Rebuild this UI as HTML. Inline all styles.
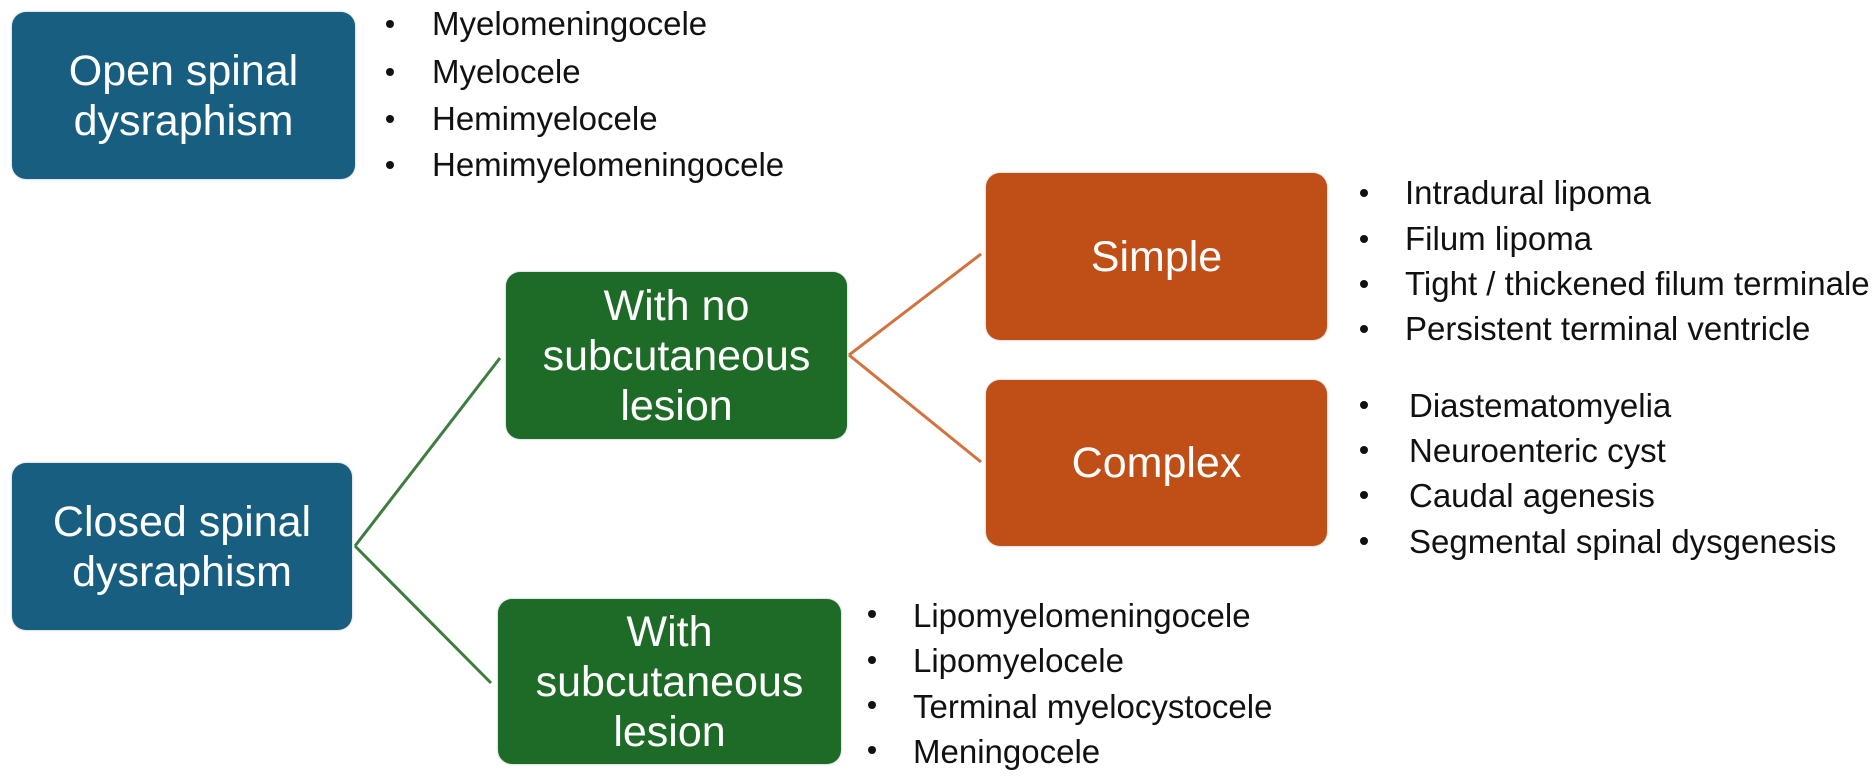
<!DOCTYPE html>
<html><head><meta charset="utf-8"><style>
body{margin:0;width:1872px;height:776px;background:#fff;position:relative;overflow:hidden;font-family:"Liberation Sans",Arial,sans-serif}
.b{position:absolute;border-radius:14px;color:#fff;display:flex;align-items:center;justify-content:center;text-align:center;font-size:43px;line-height:50px;box-shadow:0 0 2px rgba(0,0,0,.3)}
.blue{background:#185e81}.green{background:#1e6b28}.or{background:#c04f17}
.t{position:absolute;font-size:33px;color:#111;white-space:nowrap;transform:translateY(-50%)}
.d{position:absolute;width:8px;height:8px;border-radius:50%;background:#111;transform:translate(-50%,-50%)}
</style></head><body>
<svg width="1872" height="776" style="position:absolute;left:0;top:0">
<line x1="355" y1="546" x2="500" y2="358" stroke="#3e7d3e" stroke-width="3"/>
<line x1="355" y1="546" x2="491" y2="683" stroke="#3e7d3e" stroke-width="3"/>
<line x1="849" y1="355" x2="981" y2="254" stroke="#d2733f" stroke-width="3"/>
<line x1="849" y1="355" x2="981" y2="462" stroke="#d2733f" stroke-width="3"/>
</svg>
<div class="b blue" style="left:12px;top:12px;width:343px;height:167px">Open spinal<br>dysraphism</div>
<div class="b blue" style="left:12px;top:463px;width:340px;height:167px">Closed spinal<br>dysraphism</div>
<div class="b green" style="left:506px;top:272px;width:341px;height:167px">With no<br>subcutaneous<br>lesion</div>
<div class="b green" style="left:498px;top:599px;width:343px;height:165px">With<br>subcutaneous<br>lesion</div>
<div class="b or" style="left:986px;top:173px;width:341px;height:167px">Simple</div>
<div class="b or" style="left:986px;top:380px;width:341px;height:166px">Complex</div>

<div class="d" style="left:390px;top:24px"></div><div class="t" style="left:432px;top:24px">Myelomeningocele</div>
<div class="d" style="left:390px;top:72px"></div><div class="t" style="left:432px;top:72px">Myelocele</div>
<div class="d" style="left:390px;top:119px"></div><div class="t" style="left:432px;top:119px">Hemimyelocele</div>
<div class="d" style="left:390px;top:165px"></div><div class="t" style="left:432px;top:165px">Hemimyelomeningocele</div>

<div class="d" style="left:1364px;top:193px"></div><div class="t" style="left:1405px;top:193px">Intradural lipoma</div>
<div class="d" style="left:1364px;top:239px"></div><div class="t" style="left:1405px;top:239px">Filum lipoma</div>
<div class="d" style="left:1364px;top:284px"></div><div class="t" style="left:1405px;top:284px">Tight / thickened filum terminale</div>
<div class="d" style="left:1364px;top:329px"></div><div class="t" style="left:1405px;top:329px">Persistent terminal ventricle</div>

<div class="d" style="left:1364px;top:405px"></div><div class="t" style="left:1409px;top:406px">Diastematomyelia</div>
<div class="d" style="left:1364px;top:450px"></div><div class="t" style="left:1409px;top:451px">Neuroenteric cyst</div>
<div class="d" style="left:1364px;top:495px"></div><div class="t" style="left:1409px;top:496px">Caudal agenesis</div>
<div class="d" style="left:1364px;top:541px"></div><div class="t" style="left:1409px;top:542px">Segmental spinal dysgenesis</div>

<div class="d" style="left:872px;top:614px"></div><div class="t" style="left:913px;top:616px">Lipomyelomeningocele</div>
<div class="d" style="left:872px;top:660px"></div><div class="t" style="left:913px;top:661px">Lipomyelocele</div>
<div class="d" style="left:872px;top:705px"></div><div class="t" style="left:913px;top:707px">Terminal myelocystocele</div>
<div class="d" style="left:872px;top:750px"></div><div class="t" style="left:913px;top:752px">Meningocele</div>
</body></html>
